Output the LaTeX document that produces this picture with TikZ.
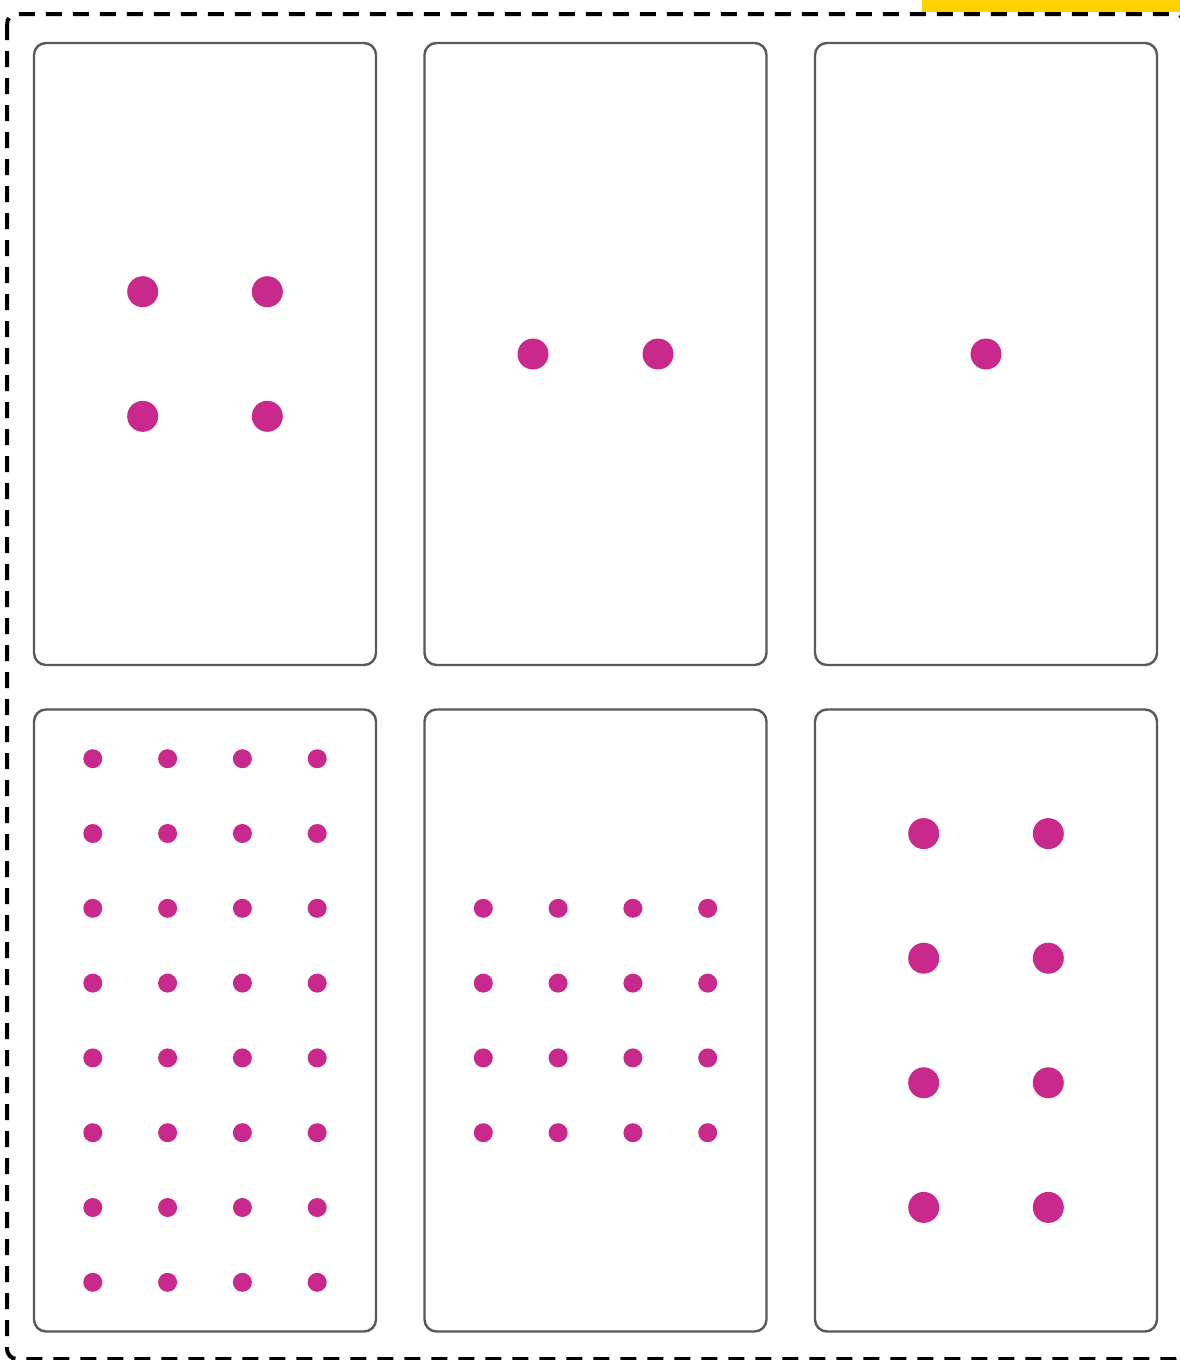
\documentclass[tikz,border=0pt]{standalone}
\usepackage{tikz}
\usetikzlibrary{positioning}
\definecolor{dotpink}{RGB}{200,41,138}
\definecolor{cardgray}{RGB}{88,89,91}
\definecolor{tabyellow}{RGB}{255,210,0}
\tikzset{
  card/.style={draw=cardgray, line width=2.4pt, rounded corners=12pt, minimum width=342pt, minimum height=622pt, inner sep=0pt, fill=white},
  bigdot/.style={circle, fill=dotpink, minimum size=31pt, inner sep=0pt},
  smalldot/.style={circle, fill=dotpink, minimum size=19pt, inner sep=0pt},
  frame/.style={draw=black, line width=4pt, dash pattern=on 16pt off 11pt, rounded corners=10pt},
  tab/.style={fill=tabyellow}
}

\begin{document}
\begin{tikzpicture}[x=1pt,y=-1pt]
  \useasboundingbox (0,0) rectangle (1180,1360);
  \clip (0,0) rectangle (1180,1360);
  % tab and outer frame
  \fill[tab] (922,0) rectangle (1180,12);
  \draw[frame] (7,14) rectangle (1185,1359);
  % cards
  \node[card] (card1) at (205,354) {};
  \node[card] (card2) at (595.5,354) {};
  \node[card] (card3) at (986,354) {};
  \node[card] (card4) at (205,1020.5) {};
  \node[card] (card5) at (595.5,1020.5) {};
  \node[card] (card6) at (986,1020.5) {};
  % four
  \foreach \i in {-0.5,0.5}
    \foreach \j in {-0.5,0.5}
      \node[bigdot] (four\i\j) at (205+\i*124.6,354+\j*124.6) {};
  % two
  \node[bigdot] (twoa) at (533,354) {};
  \node[bigdot] (twob) at (658,354) {};
  % one
  \node[bigdot] (one) at (986,354) {};
  % thirty-two
  \foreach \i in {-1.5,-0.5,0.5,1.5}
    \foreach \j in {-3.5,-2.5,-1.5,-0.5,0.5,1.5,2.5,3.5}
      \node[smalldot] (many\i\j) at (205+\i*74.8,1020.5+\j*74.8) {};
  % sixteen
  \foreach \i in {-1.5,-0.5,0.5,1.5}
    \foreach \j in {-1.5,-0.5,0.5,1.5}
      \node[smalldot] (grid\i\j) at (595.5+\i*74.8,1020.5+\j*74.8) {};
  % eight
  \foreach \i in {-0.5,0.5}
    \foreach \j in {-1.5,-0.5,0.5,1.5}
      \node[bigdot] (eight\i\j) at (986+\i*124.6,1020.5+\j*124.6) {};
\end{tikzpicture}
\end{document}
